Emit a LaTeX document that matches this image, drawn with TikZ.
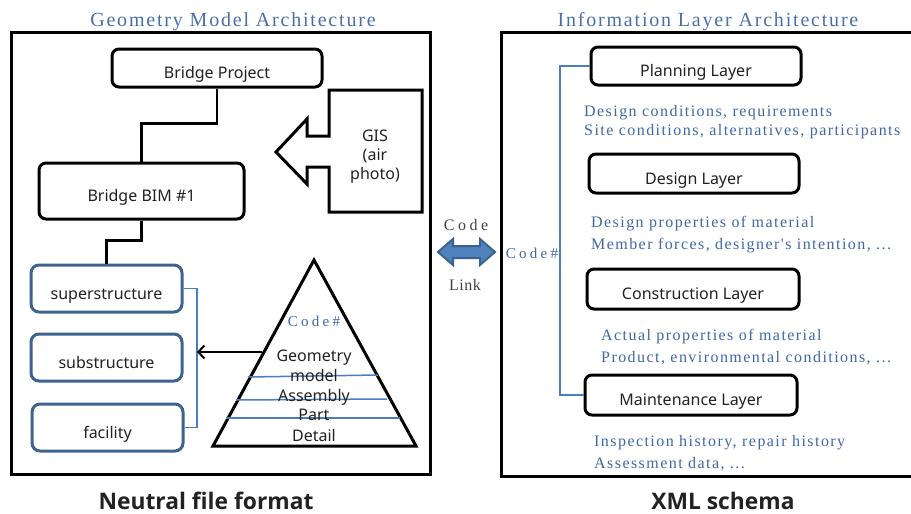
\documentclass[tikz,border=0pt]{standalone}
\usepackage{fontspec}
\setmainfont{Liberation Serif}
\newfontfamily\sansfam{Noto Sans}
\newfontfamily\boldfam{Open Sans}
\newfontfamily\wideserif[LetterSpace=9]{Liberation Serif}
\newfontfamily\widerserif[LetterSpace=22]{Liberation Serif}
\newfontfamily\slightserif[LetterSpace=3]{Liberation Serif}
\usetikzlibrary{arrows.meta}

\definecolor{ttlblue}{HTML}{4A70A8}
\definecolor{descblue}{HTML}{3F68A6}
\definecolor{boxblue}{HTML}{3E638F}
\definecolor{lineblue}{HTML}{4A7EBF}
\definecolor{arrowfill}{HTML}{4F81BD}
\definecolor{arrowedge}{HTML}{3A6290}
\definecolor{txt}{HTML}{222222}

\tikzset{
  frame/.style={draw=black, line width=3pt},
  blkbox/.style={draw=black, line width=3pt, rounded corners=7pt,
    font=\sansfam\fontsize{16}{19}\selectfont, text=txt,
    text height=21pt, text depth=0pt, inner sep=0pt},
  blubox/.style={draw=boxblue, line width=3pt, rounded corners=8pt,
    minimum width=151pt, minimum height=47pt,
    font=\sansfam\fontsize{16}{19}\selectfont, text=txt,
    text height=21pt, text depth=0pt, inner sep=0pt},
  conn/.style={draw=black, line width=2.5pt},
  bluline/.style={draw=lineblue, line width=1.5pt},
  ttl/.style={font=\wideserif\fontsize{20}{24}\selectfont, text=ttlblue, anchor=base},
  desc/.style={font=\wideserif\fontsize{16}{19}\selectfont, text=descblue, anchor=base west, inner sep=0pt},
  lbl/.style={font=\sansfam\fontsize{16}{19}\selectfont, text=txt, anchor=base, inner sep=0pt},
  codelbl/.style={font=\widerserif\fontsize{15}{18}\selectfont, text=descblue, anchor=base, inner sep=0pt},
  midlbl/.style={font=\widerserif\fontsize{16}{19}\selectfont, text=txt!85, anchor=base, inner sep=0pt},
  bottom/.style={font=\boldfam\bfseries\fontsize{22.8}{27}\selectfont, text=txt, anchor=base},
}

\begin{document}
\begin{tikzpicture}[x=1pt, y=-1pt]
\useasboundingbox (0,0) rectangle (911,514);
\fill[white] (0,0) rectangle (911,514);

% ---------- geometry model side ----------
\node[ttl] (ttlgeo) at (233,27) {Geometry Model Architecture};
\draw[frame] (11,32) rectangle (430,474);

\node[blkbox, minimum width=210pt, minimum height=38pt] (bp) at (217,68) {Bridge Project};
\node[blkbox, minimum width=205pt, minimum height=56pt] (bim) at (141.5,191) {Bridge BIM \#1};

\node[blubox] (sup) at (106.5,288.5) {superstructure};
\node[blubox] (sub) at (106.5,357.5) {substructure};
\node[blubox] (fac) at (107.5,427.5) {facility};

\draw[conn] (bp.south) -- ++(0,35) -| (bim.north);
\draw[conn] (bim.south) -- ++(0,20) -| (sup.north);

% GIS block arrow
\draw[frame, line join=miter]
  (329,90) -- (422,90) -- (422,212) -- (329,212) -- (329,167) -- (307,167)
  -- (307,184) -- (276,152) -- (307,119) -- (307,136) -- (329,136) -- cycle;
\node[lbl, anchor=center, align=center] (gis) at (375,157) {GIS\\(air\\photo)};

% bracket grouping the structure parts
\coordinate (brtop) at (197,288.5);
\coordinate (brbot) at (197,427.5);
\coordinate (brmid) at (197,352);
\draw[bluline] (sup.east) -- (brtop) -- (brbot) -- (fac.east);

% level-of-detail pyramid
\coordinate (apex) at (314,260);
\coordinate (bl) at (213,446);
\coordinate (brt) at (416,446);
\draw[frame, line join=miter] (apex) -- (brt) -- (bl) -- cycle;
\draw[bluline] (248,377) -- (378,375);
\draw[bluline] (236,400) -- (387,399);
\draw[bluline] (226,418) -- (400,418);
\node[codelbl] (pcode) at (314,326) {Code\#};
\node[lbl] (pgeo) at (314,361) {Geometry};
\node[lbl] (pmod) at (314,381) {model};
\node[lbl] (pass) at (314,401) {Assembly};
\node[lbl] (ppart) at (314,420) {Part};
\node[lbl] (pdet) at (314,441) {Detail};
\coordinate (pyrleft) at (262,352);
\draw[conn, line width=2pt, -{Straight Barb[length=6pt, width=13pt, line width=2pt]}] (pyrleft) -- (brmid);

\node[bottom] (neutral) at (206,509) {Neutral file format};

% ---------- link between the two ----------
\node[midlbl] (codetxt) at (466,230) {Code};
\node[midlbl, font=\slightserif\fontsize{16}{19}\selectfont] (linktxt) at (465,290) {Link};
\draw[fill=arrowfill, draw=arrowedge, line width=2pt, line join=miter]
  (438,252) -- (453,239) -- (453,246) -- (480,246) -- (480,239) -- (495,252)
  -- (480,265) -- (480,258) -- (453,258) -- (453,265) -- cycle;

% ---------- information layer side ----------
\node[ttl] (ttlinf) at (708,27) {Information Layer Architecture};
\draw[frame] (916,32) -- (501,32) -- (501,476) -- (916,476);

\node[blkbox, minimum width=210pt, minimum height=38pt] (plan) at (696,66) {Planning Layer};
\node[blkbox, minimum width=210pt, minimum height=39pt] (des) at (694,173.5) {Design Layer};
\node[blkbox, minimum width=212pt, minimum height=40pt] (con) at (693,289) {Construction Layer};
\node[blkbox, minimum width=212pt, minimum height=40pt] (mnt) at (691,395) {Maintenance Layer};

\coordinate (lktop) at (560,66);
\coordinate (lkbot) at (560,395);
\draw[bluline] (plan.west) -- (lktop) -- (lkbot) -- (mnt.west);
\node[codelbl] (rcode) at (532,258) {Code\#};

\node[desc] (d1) at (584,116) {Design conditions, requirements};
\node[desc] (d2) at (584,135) {Site conditions, alternatives, participants};
\node[desc] (d3) at (591,227) {Design properties of material};
\node[desc] (d4) at (591,249) {Member forces, designer's intention, ...};
\node[desc] (d5) at (601,340) {Actual properties of material};
\node[desc] (d6) at (601,362) {Product, environmental conditions, ...};
\node[desc] (d7) at (594,446) {Inspection history, repair history};
\node[desc] (d8) at (594,468) {Assessment data, ...};

\node[bottom] (xml) at (723,509) {XML schema};
\end{tikzpicture}
\end{document}
